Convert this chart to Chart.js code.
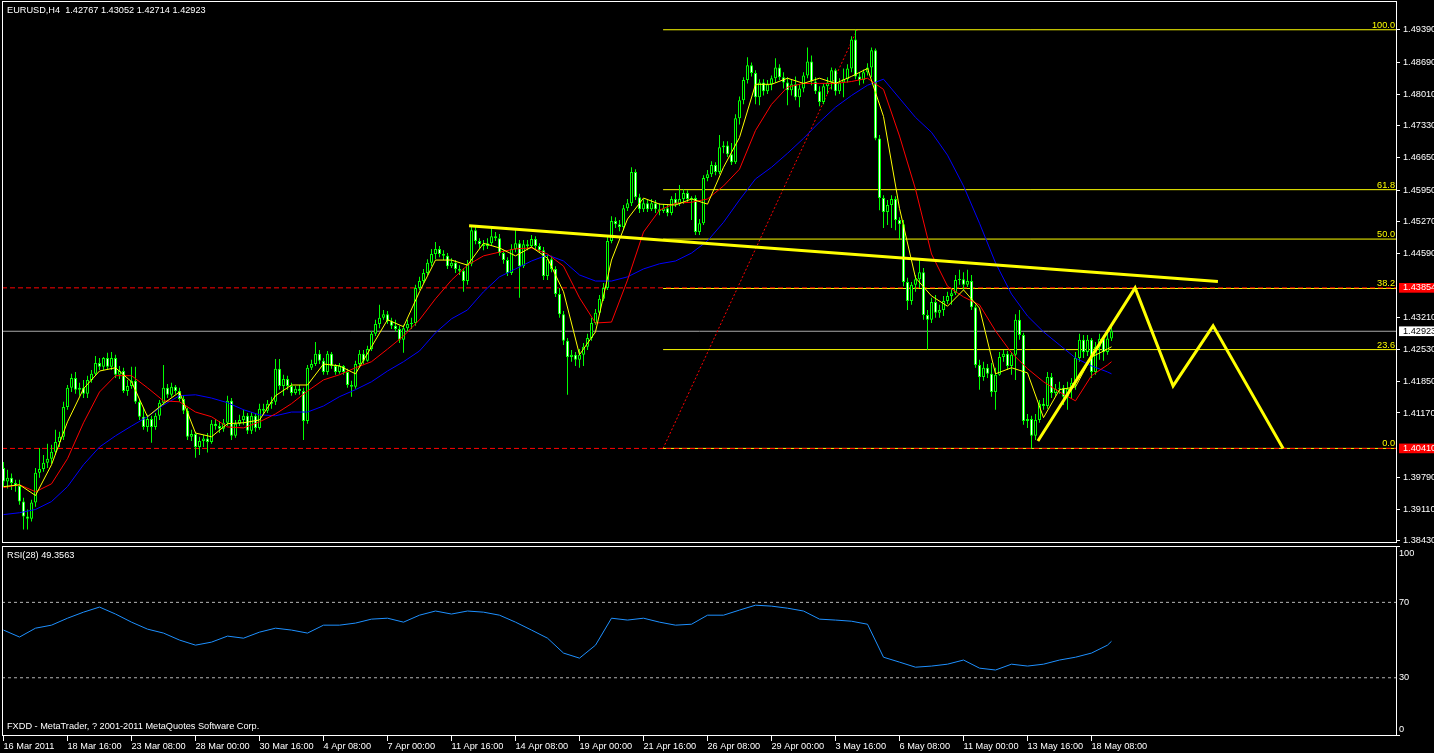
<!DOCTYPE html>
<html>
<head>
<meta charset="utf-8">
<script src="https://cdn.jsdelivr.net/npm/chart.js@4.4.1/dist/chart.umd.min.js"></script>
<style>
html,body{margin:0;padding:0;background:#000;}
body{width:1434px;height:753px;overflow:hidden;position:relative;}
canvas{position:absolute;left:0;}
#cMain{top:0;}
#cRsi{top:545px;}
.lbl{position:absolute;left:7px;color:#fff;font-family:"Liberation Sans",Arial,sans-serif;font-size:9.2px;line-height:11px;white-space:pre;}
</style>
</head>
<body>
<canvas id="cMain" width="1434" height="545"></canvas>
<canvas id="cRsi" width="1434" height="208"></canvas>
<div class="lbl" style="top:5px">EURUSD,H4  1.42767 1.43052 1.42714 1.42923</div>
<div class="lbl" style="top:550px">RSI(28) 49.3563</div>
<div class="lbl" style="top:721px">FXDD - MetaTrader, ? 2001-2011 MetaQuotes Software Corp.</div>
<script>
// ---- DATA (prices in pips: value * 0.0001) ----
const PIP = 0.0001;
const open = [13999,13970,13978,13967,13961,13927,13895,13890,13925,13989,
13997,14010,14019,14034,14055,14066,14130,14171,14192,14167,
14171,14158,14188,14201,14224,14216,14235,14216,14235,14199,
14207,14164,14175,14186,14141,14109,14087,14104,14087,14111,
14139,14171,14156,14173,14164,14147,14122,14066,14072,14044,
14057,14062,14055,14094,14089,14083,14096,14143,14068,14094,
14102,14111,14079,14111,14085,14126,14122,14137,14141,14212,
14175,14190,14175,14160,14169,14164,14100,14214,14222,14244,
14229,14205,14244,14218,14205,14218,14205,14177,14173,14222,
14244,14229,14254,14287,14308,14321,14329,14314,14304,14297,
14274,14299,14308,14310,14385,14400,14417,14439,14458,14469,
14458,14454,14432,14439,14426,14422,14400,14437,14509,14486,
14479,14475,14481,14496,14492,14460,14445,14417,14469,14481,
14432,14479,14475,14490,14475,14466,14411,14447,14426,14372,
14329,14272,14237,14242,14231,14242,14259,14278,14310,14332,
14362,14385,14486,14529,14522,14516,14556,14567,14634,14580,
14554,14567,14554,14567,14554,14550,14556,14546,14576,14565,
14576,14589,14576,14578,14505,14524,14621,14629,14649,14634,
14687,14691,14672,14655,14749,14788,14831,14863,14846,14794,
14826,14807,14822,14835,14858,14837,14826,14809,14822,14794,
14813,14841,14871,14828,14807,14784,14818,14826,14852,14807,
14826,14833,14856,14918,14839,14831,14848,14858,14895,14706,
14578,14548,14563,14576,14531,14522,14398,14357,14392,14404,
14419,14327,14317,14355,14332,14338,14357,14368,14374,14402,
14404,14392,14400,14344,14220,14194,14214,14201,14162,14199,
14237,14244,14218,14242,14317,14284,14100,14104,14068,14102,
14137,14132,14194,14160,14169,14171,14152,14169,14182,14235,
14274,14248,14274,14205,14259,14276,14248,14276.7];
const high = [14012,13995,13987,13974,13974,13935,13910,13931,13999,14042,
14027,14051,14049,14081,14077,14141,14177,14201,14205,14182,
14188,14197,14209,14239,14235,14237,14246,14248,14242,14218,
14214,14188,14216,14216,14147,14128,14113,14111,14117,14145,
14220,14179,14182,14177,14171,14154,14128,14081,14077,14066,
14070,14074,14102,14104,14100,14104,14154,14149,14102,14113,
14124,14117,14119,14117,14137,14137,14145,14152,14233,14233,
14199,14197,14182,14175,14177,14171,14220,14231,14269,14252,
14235,14250,14248,14222,14224,14220,14212,14186,14229,14252,
14252,14261,14293,14317,14349,14338,14336,14321,14317,14304,
14306,14317,14321,14392,14409,14426,14447,14469,14484,14475,
14466,14460,14449,14445,14434,14428,14445,14518,14518,14492,
14488,14492,14514,14505,14501,14466,14451,14479,14514,14488,
14488,14488,14499,14496,14481,14473,14456,14454,14432,14385,
14336,14278,14252,14248,14254,14267,14287,14321,14340,14370,
14396,14496,14539,14537,14531,14563,14576,14644,14640,14587,
14576,14574,14576,14574,14567,14565,14563,14582,14589,14606,
14597,14595,14582,14584,14533,14627,14638,14657,14655,14713,
14700,14700,14696,14758,14796,14837,14880,14869,14852,14833,
14833,14831,14841,14878,14865,14848,14837,14831,14839,14822,
14848,14901,14884,14837,14818,14824,14837,14858,14856,14835,
14856,14865,14925,14939,14846,14854,14867,14901,14899,14713,
14584,14574,14584,14582,14537,14531,14407,14398,14413,14449,
14428,14338,14364,14370,14349,14368,14377,14385,14413,14424,
14419,14424,14413,14349,14231,14227,14222,14224,14214,14248,
14252,14250,14248,14329,14338,14289,14115,14111,14115,14145,
14149,14205,14203,14179,14184,14177,14184,14192,14248,14287,
14284,14284,14278,14269,14287,14284,14295,14305.2];
const low = [13959,13955,13952,13948,13920,13867,13867,13884,13916,13978,
13991,13999,14008,14027,14044,14059,14124,14162,14158,14154,
14149,14149,14182,14197,14209,14209,14209,14209,14192,14190,
14160,14154,14169,14137,14102,14081,14077,14053,14081,14102,
14134,14149,14152,14158,14141,14115,14059,14057,14021,14027,
14044,14032,14051,14081,14074,14077,14089,14059,14064,14089,
14092,14072,14072,14077,14081,14113,14117,14126,14134,14167,
14154,14167,14154,14156,14156,14059,14094,14209,14218,14222,
14199,14199,14212,14199,14201,14199,14171,14152,14169,14214,
14222,14227,14250,14282,14299,14317,14308,14297,14291,14267,
14246,14291,14297,14304,14381,14396,14413,14432,14447,14451,
14445,14426,14428,14417,14413,14377,14392,14432,14479,14471,
14466,14469,14477,14486,14454,14437,14411,14413,14462,14364,
14428,14466,14471,14469,14460,14402,14402,14419,14366,14321,
14263,14156,14227,14218,14214,14218,14252,14272,14306,14327,
14357,14381,14481,14514,14507,14509,14550,14561,14574,14546,
14548,14548,14550,14546,14541,14546,14539,14541,14559,14561,
14565,14569,14531,14499,14499,14520,14614,14623,14627,14629,
14674,14666,14649,14651,14736,14779,14824,14839,14779,14777,
14798,14801,14809,14826,14831,14813,14777,14798,14788,14773,
14805,14835,14820,14801,14775,14779,14801,14811,14798,14801,
14794,14826,14848,14833,14820,14824,14841,14837,14702,14552,
14514,14520,14514,14509,14488,14389,14338,14349,14377,14385,
14317,14252,14310,14321,14321,14325,14351,14349,14370,14392,
14381,14387,14338,14214,14167,14186,14192,14152,14124,14197,
14227,14209,14199,14188,14274,14092,14085,14041,14059,14096,
14124,14126,14149,14154,14158,14134,14124,14149,14167,14227,
14235,14239,14192,14199,14231,14229,14242,14271.4];
const close = [13970,13978,13967,13961,13927,13895,13890,13925,13989,13997,
14010,14019,14034,14055,14066,14130,14171,14192,14167,14171,
14158,14188,14201,14224,14216,14235,14216,14235,14199,14207,
14164,14175,14186,14141,14109,14087,14104,14087,14111,14139,
14171,14156,14173,14164,14147,14122,14066,14072,14044,14057,
14062,14055,14094,14089,14083,14096,14143,14068,14094,14102,
14111,14079,14111,14085,14126,14122,14137,14141,14212,14175,
14190,14175,14160,14169,14164,14100,14214,14222,14244,14229,
14205,14244,14218,14205,14218,14205,14177,14173,14222,14244,
14229,14254,14287,14308,14321,14329,14314,14304,14297,14274,
14299,14308,14310,14385,14400,14417,14439,14458,14469,14458,
14454,14432,14439,14426,14422,14400,14437,14509,14486,14479,
14475,14481,14496,14492,14460,14445,14417,14469,14481,14432,
14479,14475,14490,14475,14466,14411,14447,14426,14372,14329,
14272,14237,14242,14231,14242,14259,14278,14310,14332,14362,
14385,14486,14529,14522,14516,14556,14567,14634,14580,14554,
14567,14554,14567,14554,14550,14556,14546,14576,14565,14576,
14589,14576,14578,14505,14524,14621,14629,14649,14634,14687,
14691,14672,14655,14749,14788,14831,14863,14846,14794,14826,
14807,14822,14835,14858,14837,14826,14809,14822,14794,14813,
14841,14871,14828,14807,14784,14818,14826,14852,14807,14826,
14833,14856,14918,14839,14831,14848,14858,14895,14706,14578,
14548,14563,14576,14531,14522,14398,14357,14392,14404,14419,
14327,14317,14355,14332,14338,14357,14368,14374,14402,14404,
14392,14400,14344,14220,14194,14214,14201,14162,14199,14237,
14244,14218,14242,14317,14284,14100,14104,14068,14102,14137,
14132,14194,14160,14169,14171,14152,14169,14182,14235,14274,
14248,14274,14205,14259,14276,14248,14276.7,14292.3];

// moving averages read every 4 bars (pips)
const maFast = [13959,13963,13940,14006,14098,14169,14207,14214,14184,14109,14137,14162,14074,14066,14094,14096,14102,14154,14177,14177,14222,14218,14201,14259,14317,14302,14377,14445,14445,14434,14481,14471,14454,14473,14449,14377,14242,14291,14445,14533,14578,14565,14563,14576,14565,14644,14708,14822,14822,14835,14824,14835,14824,14839,14856,14753,14556,14407,14368,14346,14381,14342,14201,14214,14203,14107,14167,14173,14237,14254,14259];
const maMid = [13957,13963,13948,13965,14019,14096,14162,14197,14197,14171,14143,14141,14119,14109,14087,14085,14098,14115,14137,14164,14188,14199,14214,14227,14254,14282,14317,14362,14402,14434,14454,14462,14469,14471,14458,14432,14364,14310,14312,14402,14505,14552,14567,14569,14576,14604,14640,14723,14779,14816,14824,14824,14824,14828,14835,14811,14711,14597,14458,14389,14366,14349,14293,14246,14212,14184,14162,14143,14197,14220,14227];
const maSlow = [13899,13903,13910,13927,13959,14006,14044,14068,14089,14109,14134,14154,14156,14149,14139,14124,14113,14111,14119,14119,14132,14152,14167,14184,14207,14227,14250,14289,14319,14338,14377,14409,14426,14443,14456,14443,14413,14400,14400,14409,14426,14437,14443,14460,14486,14526,14574,14619,14644,14674,14706,14741,14773,14798,14820,14833,14792,14751,14719,14670,14604,14524,14439,14372,14325,14291,14263,14235,14218,14205,14201];
const rsi = [55.3,51.6,56.3,57.9,61.6,64.8,67.5,63.8,59.5,55.8,53.7,50.0,47.3,48.9,52.1,51.0,54.2,56.3,55.3,53.7,57.9,57.9,59.0,61.1,61.6,59.5,63.2,65.4,63.8,65.4,64.8,63.2,59.5,55.3,51.0,43.1,40.4,47.3,61.6,60.6,61.6,59.5,57.9,58.4,63.2,63.2,65.9,68.5,68.0,66.9,65.4,61.1,60.6,60.0,58.4,40.9,38.3,35.6,36.2,37.2,39.4,35.1,34.1,37.2,36.2,37.2,39.4,40.9,43.1,47.3,49.36];

const timeLabels = ['16 Mar 2011','18 Mar 16:00','23 Mar 08:00','28 Mar 00:00','30 Mar 16:00','4 Apr 08:00','7 Apr 00:00','11 Apr 16:00','14 Apr 08:00','19 Apr 00:00','21 Apr 16:00','26 Apr 08:00','29 Apr 00:00','3 May 16:00','6 May 08:00','11 May 00:00','13 May 16:00','18 May 08:00'];
const timeBars = [0,16,32,48,64,80,96,112,128,144,160,176,192,208,224,240,256,272];
const priceTicks = [1.4939,1.4869,1.4801,1.4733,1.4665,1.4595,1.4527,1.4459,1.4321,1.4253,1.4185,1.4117,1.3979,1.3911,1.3843];
const alertPrices = [1.43854,1.40410];
const bidPrice = 1.42923;
const fibLevels = [0,23.6,38.2,50,61.8,100];
const fibLow = 1.4041, fibHigh = 1.4939;
const fibBars = [164.9,213.4];
const trendBars = [116.4,303.6], trendPrices = [1.45185,1.43990];
const zigBars = [258.6,282.9,292.4,302.4,319.9], zigPrices = [1.40570,1.43854,1.41750,1.43040,1.40410];
const rsiLevels = [30,70];

// ---- layout constants ----
const XMIN = -0.375, XMAX = 348.375;
const YMIN = 1.38381, YMAX = 1.50007;
const FONT = '"Liberation Sans", Arial, sans-serif';
Chart.defaults.font.family = FONT;
Chart.defaults.font.size = 9.2;
Chart.defaults.color = '#fff';

const maBars = Array.from({length:70},(_,k)=>4*k).concat([277]);
const idx = close.map((_,i)=>i);
const pts = (xs, ys) => xs.map((x,i)=>({x:x, y:ys[i]}));
const hline = (p, x0) => [{x:x0, y:p},{x:XMAX, y:p}];
const lineDs = (data, color, width, order, dash) => ({type:'line', data, borderColor:color, borderWidth:width, borderDash:dash||[], pointRadius:0, pointHoverRadius:0, fill:false, tension:0, order});

const wicks = idx.map(i=>({x:i, y:[low[i]*PIP, high[i]*PIP]}));
const bodies = idx.map(i=>({x:i, y:[Math.min(open[i],close[i])*PIP, Math.max(open[i],close[i])*PIP]}));
const bodyFill = idx.map(i=> close[i] >= open[i] ? '#000000' : '#ffffff');

const datasets = [];
datasets.push(lineDs(pts(trendBars, trendPrices), '#ffff00', 3, 1));
datasets.push(lineDs(pts(zigBars, zigPrices), '#ffff00', 3, 2));
datasets.push(lineDs(pts(maBars, maFast.map(v=>v*PIP)), '#ffff00', 1, 3));
datasets.push(lineDs(pts(maBars, maMid.map(v=>v*PIP)), '#ff0000', 1, 4));
datasets.push(lineDs(pts(maBars, maSlow.map(v=>v*PIP)), '#0000ff', 1, 5));
datasets.push({type:'bar', data:bodies, backgroundColor:bodyFill, borderColor:'#00ff00', borderWidth:1, borderSkipped:false, barThickness:3, grouped:false, minBarLength:1, inflateAmount:0, order:6});
datasets.push({type:'bar', data:wicks, backgroundColor:'#00ff00', borderWidth:0, barThickness:1, grouped:false, inflateAmount:0, order:7});
alertPrices.forEach(p => datasets.push(lineDs(hline(p, XMIN), '#ff0000', 1, 8, [5,3])));
fibLevels.forEach(l => datasets.push(lineDs(hline(fibLow + (fibHigh-fibLow)*l/100, fibBars[0]), '#ffff00', 1, 9)));
datasets.push(lineDs(pts(fibBars, [fibLow, fibHigh]), '#ff0000', 1, 9, [2,2]));
datasets.push(lineDs(hline(bidPrice, XMIN), '#a8a8a8', 1, 10));

const isMarker = v => alertPrices.some(p=>Math.abs(p-v)<1e-7) || Math.abs(v-bidPrice)<1e-7;
const yTicks = priceTicks.concat(alertPrices, [bidPrice]).sort((a,b)=>a-b);

const mainDecor = {
  id:'mainDecor',
  afterDraw(chart){
    const {ctx, chartArea:a, scales:{y}} = chart;
    ctx.save();
    ctx.font = '9.2px ' + FONT;
    ctx.fillStyle = '#ffff00'; ctx.textAlign = 'right'; ctx.textBaseline = 'alphabetic';
    fibLevels.forEach(l => {
      const py = y.getPixelForValue(fibLow + (fibHigh-fibLow)*l/100);
      ctx.fillText(l.toFixed(1), a.right - 2, Math.round(py) - 2);
    });
    ctx.strokeStyle = '#fff'; ctx.lineWidth = 1;
    ctx.strokeRect(2.5, 1.5, 1394, 541);
    ctx.restore();
  }
};

new Chart(document.getElementById('cMain'), {
  type:'bar',
  data:{datasets},
  options:{
    responsive:false, animation:false, devicePixelRatio:1, events:[],
    layout:{padding:{left:2, top:1, right:0, bottom:2}},
    plugins:{legend:{display:false}, tooltip:{enabled:false}},
    scales:{
      x:{type:'linear', min:XMIN, max:XMAX, display:false, offset:false},
      y:{type:'linear', position:'right', min:YMIN, max:YMAX,
        afterBuildTicks: s => { s.ticks = yTicks.map(v=>({value:v})); },
        afterFit: s => { s.width = 37; s.paddingTop = 0; s.paddingBottom = 0; },
        border:{display:false},
        grid:{display:true, drawOnChartArea:false, drawTicks:true, tickLength:3,
          color: c => (c.tick && isMarker(c.tick.value)) ? 'rgba(0,0,0,0)' : '#ffffff',
          tickColor: c => (c.tick && isMarker(c.tick.value)) ? 'rgba(0,0,0,0)' : '#ffffff'},
        ticks:{autoSkip:false, padding:3, font:{size:9.2, lineHeight:1.05},
          callback: v => Number(v).toFixed(5),
          color: c => (c.tick && Math.abs(c.tick.value-bidPrice)<1e-7) ? '#000' : '#fff',
          showLabelBackdrop: c => !!(c.tick && isMarker(c.tick.value)),
          backdropColor: c => (c.tick && Math.abs(c.tick.value-bidPrice)<1e-7) ? '#ffffff' : '#ff0000',
          backdropPadding:{left:4, right:8, top:0, bottom:0}}
      }
    }
  },
  plugins:[mainDecor]
});

// ---- RSI panel ----
const rsiDecor = {
  id:'rsiDecor',
  afterDraw(chart){
    const {ctx} = chart;
    ctx.save();
    ctx.strokeStyle = '#fff'; ctx.lineWidth = 1;
    ctx.strokeRect(2.5, 1.5, 1394, 189);
    ctx.beginPath();
    ctx.moveTo(1396, 1.5); ctx.lineTo(1400, 1.5);
    ctx.moveTo(1396, 190.5); ctx.lineTo(1400, 190.5);
    ctx.stroke();
    ctx.restore();
  }
};
const rsiTickLabels = {2.8:'0', 30:'30', 70:'70', 96.2:'100'};
new Chart(document.getElementById('cRsi'), {
  type:'line',
  data:{datasets:[
    lineDs(pts(maBars, rsi), '#1e90ff', 1, 1),
    ...rsiLevels.map(l => lineDs(hline(l, XMIN), '#b4b4b4', 1, 2, [3,3]))
  ]},
  options:{
    responsive:false, animation:false, devicePixelRatio:1, events:[],
    layout:{padding:{left:2, top:1, right:0, bottom:0}},
    plugins:{legend:{display:false}, tooltip:{enabled:false}},
    scales:{
      x:{type:'linear', min:XMIN, max:XMAX, position:'bottom', offset:false,
        afterBuildTicks: s => { s.ticks = timeBars.map(v=>({value:v})); },
        afterFit: s => { s.height = 17; s.paddingLeft = 0; s.paddingRight = 0; },
        border:{display:false},
        grid:{drawOnChartArea:false, drawTicks:true, tickLength:5, color:'#fff', tickColor:'#fff'},
        ticks:{autoSkip:false, maxRotation:0, minRotation:0, align:'start', padding:0, color:'#fff', font:{size:9.2},
          callback:(v,i) => timeLabels[i]}
      },
      y:{type:'linear', position:'right', min:-0.9, max:99.9,
        afterBuildTicks: s => { s.ticks = [2.8,30,70,96.2].map(v=>({value:v})); },
        afterFit: s => { s.width = 37; s.paddingTop = 0; s.paddingBottom = 0; },
        border:{display:false},
        grid:{display:false, drawTicks:false},
        ticks:{autoSkip:false, padding:2, color:'#fff', font:{size:9.2}, callback: v => rsiTickLabels[v]}
      }
    }
  },
  plugins:[rsiDecor]
});
</script>
</body>
</html>
